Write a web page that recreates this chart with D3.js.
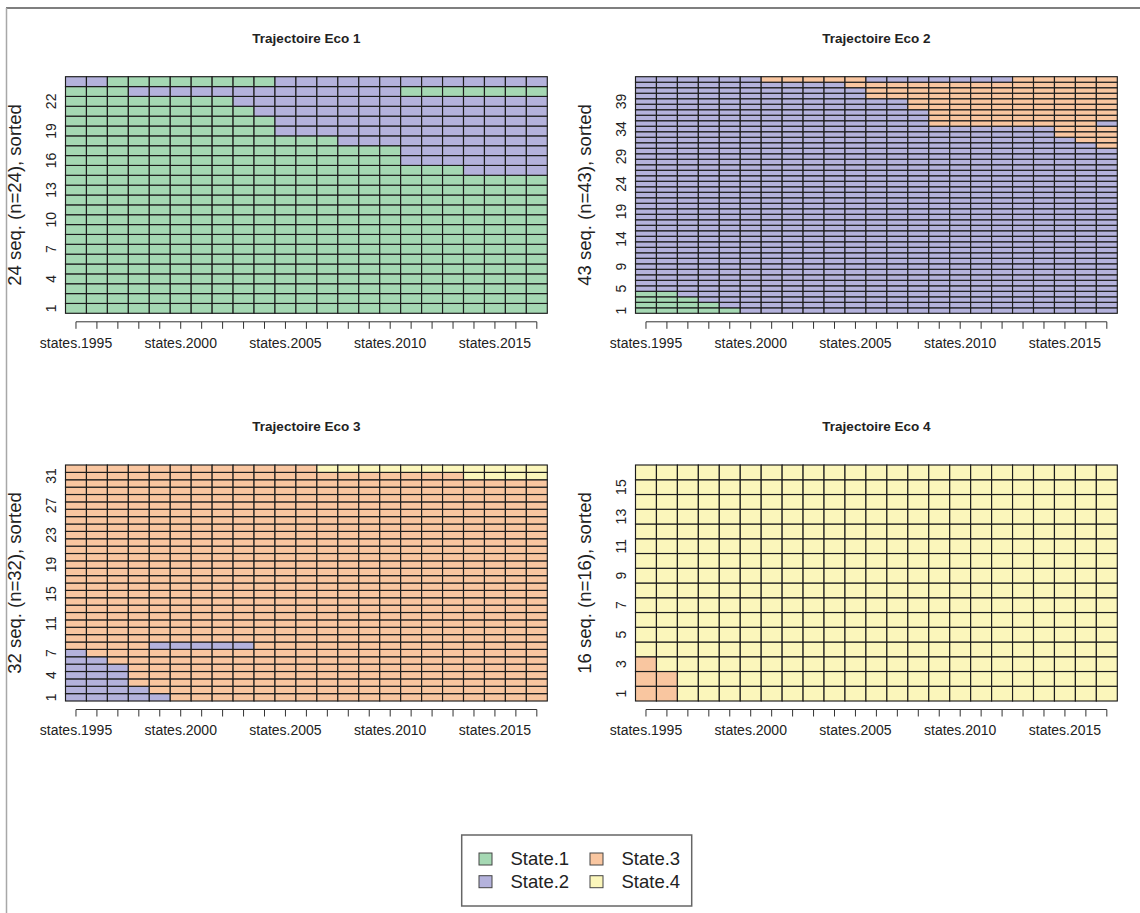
<!DOCTYPE html>
<html>
<head>
<meta charset="utf-8">
<script src="https://cdn.jsdelivr.net/npm/d3@7"></script>
<style>
  body { margin: 0; background: #fff; }
  text { font-family: "Liberation Sans", Arial, Helvetica, sans-serif; fill: #222; }
</style>
</head>
<body>
<div id="chart"></div>
<script>
const years = ["states.1995", "states.1996", "states.1997", "states.1998", "states.1999",
               "states.2000", "states.2001", "states.2002", "states.2003", "states.2004",
               "states.2005", "states.2006", "states.2007", "states.2008", "states.2009",
               "states.2010", "states.2011", "states.2012", "states.2013", "states.2014",
               "states.2015", "states.2016", "states.2017"];
const shownYears = ["states.1995", "states.2000", "states.2005", "states.2010", "states.2015"];

const stateNames = ["State.1", "State.2", "State.3", "State.4"];
const stateColors = ["#a5d8b3", "#b4b2dc", "#f9c6a0", "#fbf6bb"];

const titles = ["Trajectoire Eco 1", "Trajectoire Eco 2", "Trajectoire Eco 3", "Trajectoire Eco 4"];

// sequences from the bottom row up: [how many identical rows, spells [state, years]]
const eco1 = [
  [14, [[1, 23]]],
  [1,  [[1, 19], [2, 4]]],
  [2,  [[1, 16], [2, 7]]],
  [1,  [[1, 13], [2, 10]]],
  [2,  [[1, 10], [2, 13]]],
  [1,  [[1, 9], [2, 14]]],
  [1,  [[1, 8], [2, 15]]],
  [1,  [[1, 3], [2, 13], [1, 7]]],
  [1,  [[2, 2], [1, 8], [2, 13]]]
];
const eco2 = [
  [1,  [[1, 5], [2, 18]]],
  [1,  [[1, 4], [2, 19]]],
  [1,  [[1, 3], [2, 20]]],
  [1,  [[1, 2], [2, 21]]],
  [26, [[2, 23]]],
  [1,  [[2, 22], [3, 1]]],
  [1,  [[2, 21], [3, 2]]],
  [2,  [[2, 20], [3, 3]]],
  [1,  [[2, 14], [3, 8], [2, 1]]],
  [2,  [[2, 14], [3, 9]]],
  [2,  [[2, 13], [3, 10]]],
  [2,  [[2, 11], [3, 12]]],
  [1,  [[2, 10], [3, 13]]],
  [1,  [[2, 6], [3, 5], [2, 7], [3, 5]]]
];
const eco3 = [
  [1,  [[2, 5], [3, 18]]],
  [1,  [[2, 4], [3, 19]]],
  [3,  [[2, 3], [3, 20]]],
  [1,  [[2, 2], [3, 21]]],
  [1,  [[2, 1], [3, 22]]],
  [1,  [[3, 4], [2, 5], [3, 14]]],
  [22, [[3, 23]]],
  [1,  [[3, 19], [4, 4]]],
  [1,  [[3, 12], [4, 11]]]
];
const eco4 = [
  [2,  [[3, 2], [4, 21]]],
  [1,  [[3, 1], [4, 22]]],
  [13, [[4, 23]]]
];

const eco1Ticks = [1, 4, 7, 10, 13, 16, 19, 22];
const eco2Ticks = [1, 5, 9, 14, 19, 24, 29, 34, 39];
const eco3Ticks = [1, 4, 7, 11, 15, 19, 23, 27, 31];
const eco4Ticks = [1, 3, 5, 7, 9, 11, 13, 15];

const groups = [eco1, eco2, eco3, eco4];
const yTicks = [eco1Ticks, eco2Ticks, eco3Ticks, eco4Ticks];

// panel boxes (plot regions)
const boxes = [
  {x0: 65.5,  x1: 547.3,  y0: 76.7, y1: 313.3},
  {x0: 635.5, x1: 1117.3, y0: 76.7, y1: 313.3},
  {x0: 65.5,  x1: 547.3,  y0: 465,  y1: 701},
  {x0: 635.5, x1: 1117.3, y0: 465,  y1: 701}
];

const svg = d3.select("#chart")
              .append("svg")
              .attr("width", 1140)
              .attr("height", 913);

// frame of the page
svg.append("line").attr("x1", 6).attr("x2", 1140).attr("y1", 8).attr("y2", 8)
   .attr("stroke", "#555").attr("stroke-width", 1.5);
svg.append("line").attr("x1", 6.5).attr("x2", 6.5).attr("y1", 8).attr("y2", 913)
   .attr("stroke", "#a8a8a8").attr("stroke-width", 1.5);

function expand(group) {
    const rows = [];
    group.forEach(([count, spells]) => {
        const states = [];
        spells.forEach(([s, len]) => { for (let k = 0; k < len; k++) states.push(s); });
        for (let c = 0; c < count; c++) rows.push(states);
    });
    return rows;
}

groups.forEach((group, p) => {
    const box = boxes[p];
    const rows = expand(group);
    const n = rows.length;

    const xScale = d3.scaleBand()
                     .domain(years)
                     .range([box.x0, box.x1]);

    const yScale = d3.scaleBand()
                     .domain(d3.range(1, n + 1))
                     .range([box.y1, box.y0]);

    const cells = rows.flatMap((states, i) =>
        states.map((s, j) => ({seq: i + 1, year: years[j], state: s})));

    svg.append("g")
       .selectAll("rect")
       .data(cells)
       .join("rect")
       .attr("x", d => xScale(d.year))
       .attr("y", d => yScale(d.seq))
       .attr("width", xScale.bandwidth())
       .attr("height", yScale.bandwidth())
       .attr("fill", d => stateColors[d.state - 1])
       .attr("stroke", "#1c1c1c")
       .attr("stroke-width", 1.15);

    // X axis
    const xAxisY = box.y1 + 8.5;
    svg.append("g")
       .attr("transform", `translate(0, ${xAxisY})`)
       .call(d3.axisBottom(xScale)
               .tickSize(7)
               .tickPadding(9)
               .tickFormat(d => shownYears.includes(d) ? d : ""))
       .call(g => {
            g.select(".domain").remove();
            g.selectAll("line").attr("stroke", "#333");
            g.selectAll("text").style("font-size", "14px").attr("fill", "#333");
       })
       .append("line")
       .attr("x1", xScale(years[0]) + xScale.bandwidth() / 2)
       .attr("x2", xScale(years[years.length - 1]) + xScale.bandwidth() / 2)
       .attr("stroke", "#333");

    // Y axis
    svg.append("g")
       .attr("transform", `translate(${box.x0}, 0)`)
       .call(d3.axisLeft(yScale).tickValues(yTicks[p]).tickSize(0))
       .call(g => {
            g.select(".domain").remove();
            g.selectAll("text")
             .attr("x", 0)
             .attr("dy", "0.35em")
             .attr("text-anchor", "middle")
             .attr("transform", "translate(-14.5, 0) rotate(-90)")
             .style("font-size", "14px")
             .attr("fill", "#333");
       });

    // Y title
    svg.append("text")
       .attr("transform", `translate(${box.x0 - 51}, ${(box.y0 + box.y1) / 2}) rotate(-90)`)
       .attr("text-anchor", "middle")
       .attr("dy", "0.35em")
       .style("font-size", "18.5px")
       .text(`${n} seq. (n=${n}), sorted`);

    // title
    svg.append("text")
       .attr("x", (box.x0 + box.x1) / 2)
       .attr("y", box.y0 - 38.5)
       .attr("dy", "0.35em")
       .attr("text-anchor", "middle")
       .style("font-size", "13.5px")
       .style("font-weight", "bold")
       .text(titles[p]);
});

// Legend
const legend = svg.append("g");
legend.append("rect")
      .attr("x", 461.7).attr("y", 835)
      .attr("width", 230).attr("height", 71)
      .attr("fill", "#fff")
      .attr("stroke", "#666")
      .attr("stroke-width", 1.5);

const legX = d3.scaleOrdinal().domain([0, 1]).range([479, 590]);
const legY = d3.scaleOrdinal().domain([0, 1]).range([859, 881.7]);

const items = legend.selectAll("g")
                    .data(stateNames)
                    .join("g")
                    .attr("transform", (_, i) => `translate(${legX(Math.floor(i / 2))}, ${legY(i % 2)})`);

items.append("rect")
     .attr("x", 0).attr("y", -6)
     .attr("width", 13).attr("height", 12)
     .attr("fill", (_, i) => stateColors[i])
     .attr("stroke", "#444");

items.append("text")
     .attr("x", 31.5)
     .attr("dy", "0.35em")
     .style("font-size", "18.5px")
     .text(d => d);
</script>
</body>
</html>
